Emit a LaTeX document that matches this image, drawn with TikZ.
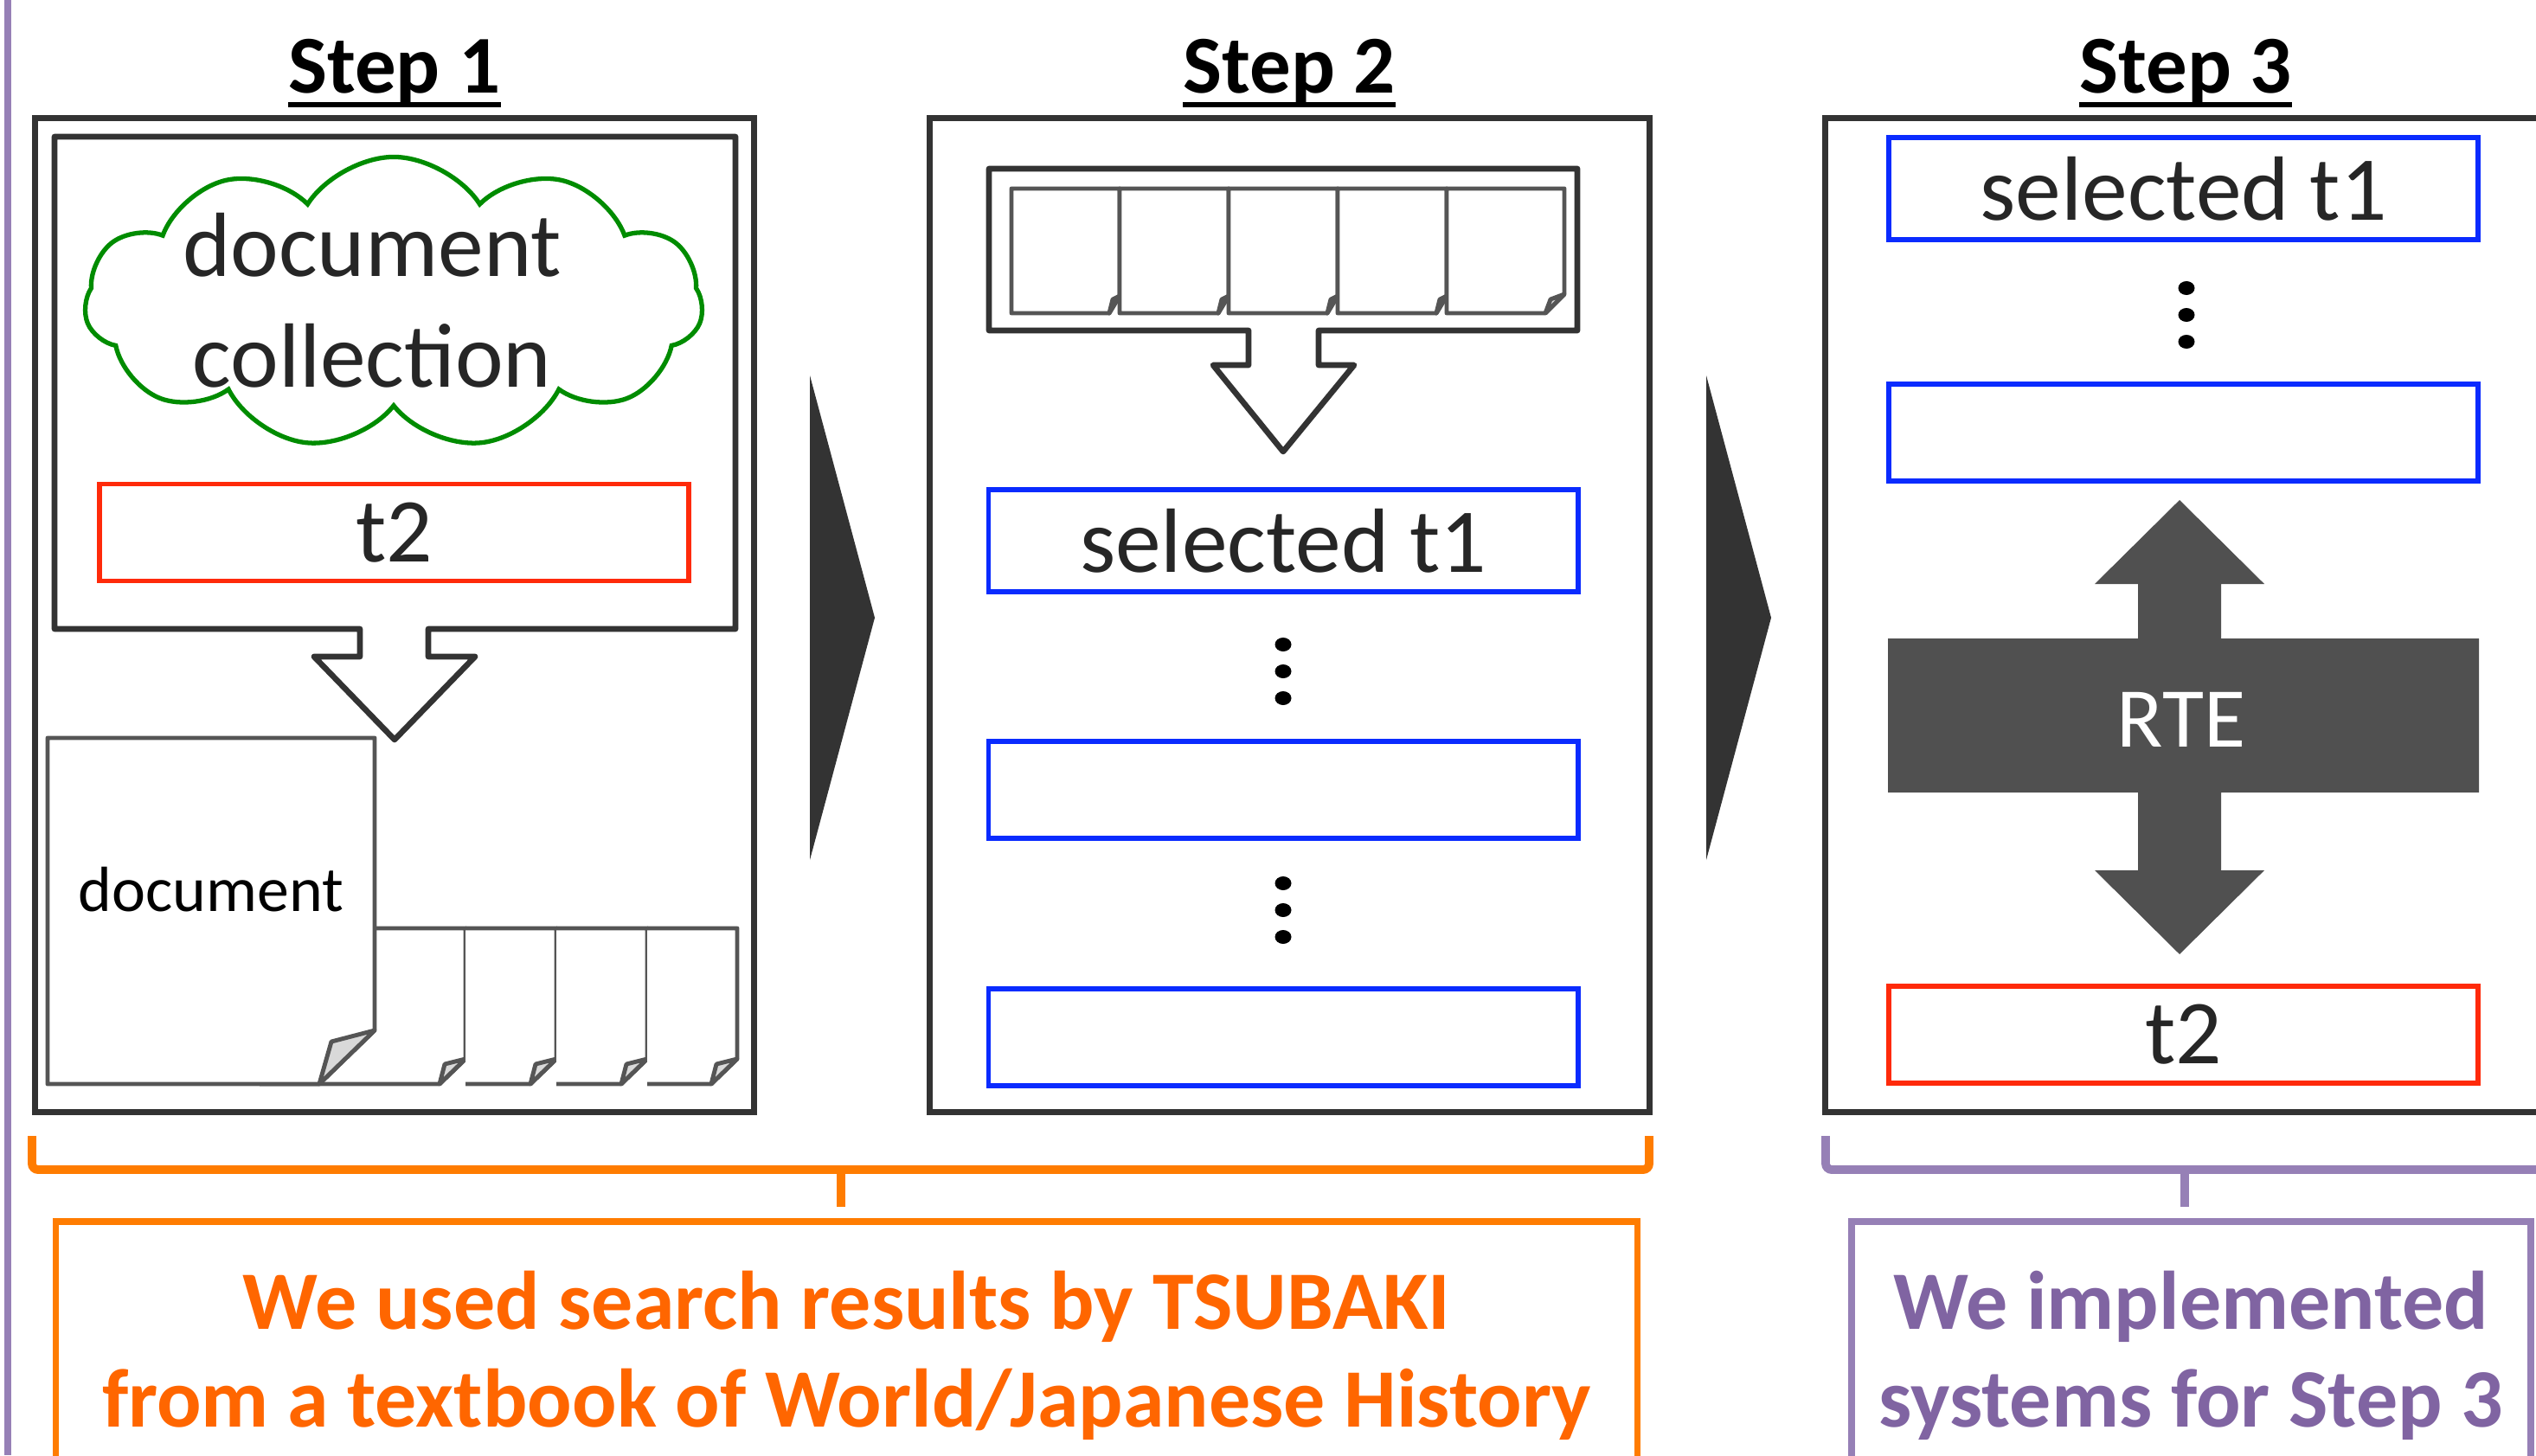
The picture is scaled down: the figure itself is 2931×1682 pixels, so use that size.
\documentclass[tikz,border=0pt]{standalone}
\usepackage{fontspec}
\setmainfont{Carlito}
\usepackage{tikz}
\usetikzlibrary{shapes.symbols,calc}
\definecolor{boxgray}{HTML}{333333}
\definecolor{docgray}{HTML}{555555}
\definecolor{foldgray}{HTML}{D9D9D9}
\definecolor{txtgray}{HTML}{262626}
\definecolor{selblue}{HTML}{0A2BFF}
\definecolor{tred}{HTML}{FF2A0A}
\definecolor{cloudgreen}{HTML}{008C00}
\definecolor{rtegray}{HTML}{505050}
\definecolor{noteorange}{HTML}{FF6600}
\definecolor{braceorange}{HTML}{FF7C00}
\definecolor{notepurple}{HTML}{8064A2}
\definecolor{bracepurple}{HTML}{9680B6}
\tikzset{
  stepbox/.style={
    rectangle, draw=boxgray, fill=white, line width=1.9pt,
    minimum width=8.31cm, minimum height=11.48cm, inner sep=0pt
  },
  tbox/.style={
    rectangle, draw=#1, line width=1.6pt,
    minimum width=6.81cm, minimum height=1.12cm, inner sep=0pt,
    font=\fontsize{30}{36}\selectfont, text=txtgray
  },
  tbox/.default=selblue,
  steplabel/.style={
    anchor=base, inner sep=0pt,
    font=\fontsize{27}{32}\selectfont\bfseries
  },
  uline/.style={line width=1.5pt},
  docsheet/.style={draw=docgray, fill=white, line width=1.4pt, line join=round},
  docfold/.style={draw=docgray, fill=foldgray, line width=1.4pt, line join=round},
  hollowarrow/.style={draw=boxgray, fill=white, line width=1.9pt, line join=round},
  chevron/.style={fill=boxgray},
  vdot/.style={fill=black},
  % ── notes under the steps ──
  bracket/.style={draw=#1, line width=2.8pt, rounded corners=2pt},
  notebox/.style={
    rectangle, draw=#1, line width=2.2pt,
    minimum height=3.10cm, inner sep=0pt, align=center,
    font=\fontsize{27.3}{32.1}\selectfont\bfseries
  },
}

\begin{document}
\begin{tikzpicture}[x=0.01cm, y=-0.01cm]

\path[use as bounding box, clip] (0,0) rectangle (2931,1682);
\fill[white] (0,0) rectangle (2931,1682);
\draw[bracepurple, line width=2pt] (9,0) -- (9,1682);

% step titles
\node[steplabel] (lab1) at (456,108) {Step 1};
\node[steplabel] (lab2) at (1490,108) {Step 2};
\node[steplabel] (lab3) at (2526,108) {Step 3};
\foreach \s in {lab1,lab2,lab3}
  \draw[uline] ([yshift=-3.7pt]\s.base west) -- ([yshift=-3.7pt]\s.base east);

% frames
\node[stepbox] (box1) at (456,711) {};
\node[stepbox] (box2) at (1490.5,711) {};
\node[stepbox] (box3) at (2525.5,711) {};

\fill[chevron] (936,434) -- (1011,714) -- (936,994) -- cycle;
\fill[chevron] (1972,434) -- (2047,714) -- (1972,994) -- cycle;

% ── Step 1 ──
\draw[hollowarrow] (63,158) -- (850,158) -- (850,727) -- (495,727) -- (495,759)
  -- (549,759) -- (456,855) -- (363,759) -- (416,759) -- (416,727) -- (63,727) -- cycle;
\node[cloud, cloud ignores aspect, draw=cloudgreen, line width=1.5pt,
  cloud puffs=11, cloud puff arc=115, minimum width=7.14cm,
  minimum height=3.37cm, inner sep=0pt] (cloud) at (455,350) {};
\node[font=\fontsize{30}{36.4}\selectfont, text=txtgray, align=center]
  (colltext) at (430,347) {document\\collection};
\node[tbox=tred] (t2a) at (455.5,615.5) {t2};

\foreach \l/\r in {300/538,538/643,643/748,748/852}{
  \draw[docsheet] (\l,1073) -- (\r,1073) -- (\r,1224) -- (\r-30,1253) -- (\l,1253);
  \draw[docfold] (\r,1224) -- (\r-24,1230) -- (\r-30,1253) -- cycle;
}
\draw[docsheet] (55,853) -- (433,853) -- (433,1191) -- (369,1253) -- (55,1253) -- cycle;
\draw[docfold] (433,1191) -- (383,1204) -- (369,1253) -- cycle;
\node[font=\fontsize{21}{25}\selectfont] (doc) at (244,1028) {document};

% ── Step 2 ──
\draw[hollowarrow] (1143,195) -- (1823,195) -- (1823,382) -- (1524,382) -- (1524,422)
  -- (1565,422) -- (1483,522) -- (1402,422) -- (1443,422) -- (1443,382) -- (1143,382) -- cycle;
\foreach \l/\r in {1169/1294,1294/1420,1420/1546,1546/1672}{
  \draw[docsheet] (\l,218) -- (\r,218) -- (\r,342) -- (\r-12,362) -- (\l,362) -- cycle;
  \draw[docfold] (\r,342) -- (\r-8,346) -- (\r-12,362) -- cycle;
}
\draw[docsheet] (1672,218) -- (1808,218) -- (1808,340) -- (1786,362) -- (1672,362) -- cycle;
\draw[docfold] (1808,340) -- (1792,346) -- (1786,362) -- cycle;

\node[tbox, minimum height=1.18cm] (sel2) at (1483,625) {selected t1};
\node[tbox] (cand2a) at (1483,913) {};
\node[tbox] (cand2b) at (1483,1199) {};
\foreach \y in {745,776,807,1021,1052,1083}
  \fill[vdot] (1483,\y) ellipse [x radius=9.5, y radius=8];

% ── Step 3 ──
\node[tbox, minimum height=1.18cm] (sel3) at (2523.5,218) {selected t1};
\node[tbox] (cand3) at (2523.5,500) {};
\foreach \y in {333,364,395}
  \fill[vdot] (2527,\y) ellipse [x radius=9.5, y radius=8];
\fill[rtegray] (2519,578) -- (2617,675) -- (2567,675) -- (2567,738) -- (2865,738)
  -- (2865,916) -- (2567,916) -- (2567,1006) -- (2617,1006) -- (2519,1103)
  -- (2421,1006) -- (2471,1006) -- (2471,916) -- (2182,916) -- (2182,738)
  -- (2471,738) -- (2471,675) -- (2421,675) -- cycle;
\node[font=\fontsize{28}{34}\selectfont, text=white] (rte) at (2521,832) {RTE};
\node[tbox=tred] (t2b) at (2523.5,1196) {t2};

% ── notes ──
\draw[bracket=braceorange] (37,1313) |- (972,1352) -| (1906,1313);
\draw[bracket=braceorange] (972,1352) -- (972,1395);
\draw[bracket=bracepurple] (2110,1313) |- (2525,1352) -- (2980,1352);
\draw[bracket=bracepurple] (2525,1352) -- (2525,1395);

\node[notebox=braceorange, text=noteorange, minimum width=18.27cm] (note1) at (978.5,1567)
  {We used search results by TSUBAKI\\from a textbook of World/Japanese History};
\node[notebox=bracepurple, text=notepurple, minimum width=7.85cm] (note2) at (2532.5,1567)
  {We implemented\\systems for Step 3};

\end{tikzpicture}
\end{document}
